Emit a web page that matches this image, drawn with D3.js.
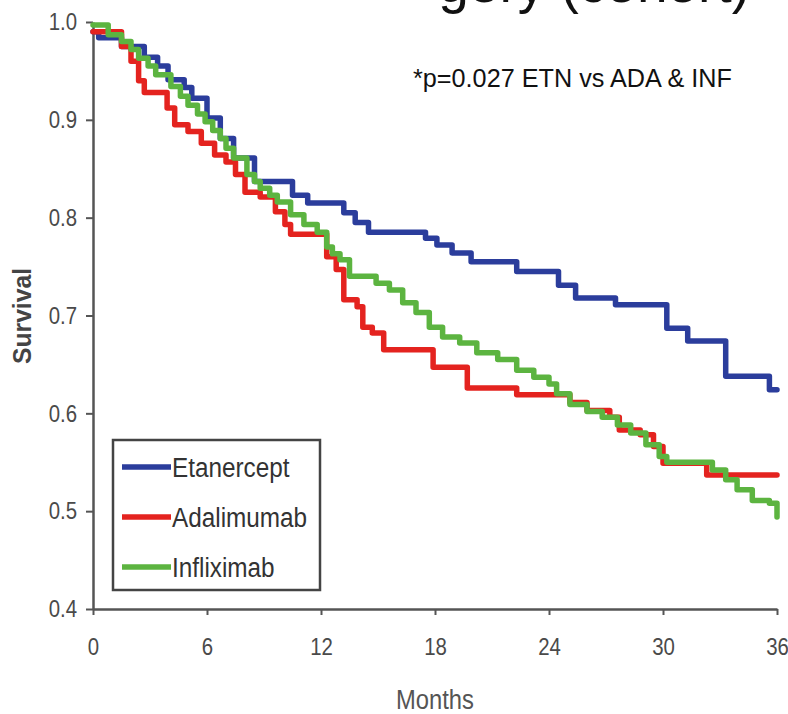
<!DOCTYPE html>
<html>
<head>
<meta charset="utf-8">
<script src="https://cdn.jsdelivr.net/npm/d3@7"></script>
<style>
  body { margin: 0; background: #fff; }
  svg { display: block; }
</style>
</head>
<body>
<script>
// Kaplan-Meier style survival, months -> survival (step after)
const months = [0, 6, 12, 18, 24, 30, 36];
const survTicks = [0.4, 0.5, 0.6, 0.7, 0.8, 0.9, 1.0];

const etanercept = [
  [0, 0.99], [0.3, 0.984], [1.5, 0.975], [2.7, 0.964], [3.4, 0.955], [3.95, 0.941],
  [4.8, 0.933], [5.2, 0.922], [6.0, 0.902], [6.7, 0.881], [7.4, 0.861], [8.5, 0.837],
  [10.5, 0.823], [11.3, 0.815], [13.2, 0.805], [13.8, 0.795], [14.5, 0.785],
  [17.5, 0.779], [18.1, 0.772], [18.9, 0.764], [19.9, 0.755], [22.3, 0.745],
  [24.5, 0.731], [25.4, 0.718], [27.5, 0.711], [30.2, 0.687], [31.3, 0.674],
  [33.3, 0.638], [35.6, 0.624], [36, 0.624]
];

const adalimumab = [
  [0, 0.99], [1.5, 0.975], [2.0, 0.96], [2.4, 0.94], [2.7, 0.928], [3.9, 0.912],
  [4.3, 0.895], [5.0, 0.888], [5.7, 0.876], [6.4, 0.864], [7.0, 0.857], [7.5, 0.844],
  [8.0, 0.826], [8.8, 0.821], [9.6, 0.806], [10.1, 0.793], [10.4, 0.783],
  [12.3, 0.760], [12.8, 0.747], [13.2, 0.716], [13.9, 0.709], [14.2, 0.688],
  [14.7, 0.682], [15.3, 0.665], [17.9, 0.647], [19.7, 0.626], [22.3, 0.619],
  [25.1, 0.611], [26.0, 0.603], [27.2, 0.596], [27.7, 0.583], [28.8, 0.578],
  [29.5, 0.566], [30.0, 0.549], [32.3, 0.537], [36, 0.537]
];

const infliximab = [
  [0, 0.997], [0.8, 0.987], [1.5, 0.98], [2.0, 0.972], [2.4, 0.963], [2.9, 0.955],
  [3.3, 0.946], [4.1, 0.934], [4.6, 0.924], [5.0, 0.915], [5.5, 0.906], [5.9, 0.898],
  [6.3, 0.889], [6.7, 0.881], [7.0, 0.871], [7.4, 0.861], [8.1, 0.844], [8.5, 0.837],
  [8.8, 0.830], [9.3, 0.823], [9.7, 0.816], [10.4, 0.803], [11.1, 0.793], [11.8, 0.785],
  [12.3, 0.770], [12.6, 0.763], [13.0, 0.757], [13.5, 0.740], [14.9, 0.733],
  [15.6, 0.726], [16.3, 0.713], [17.0, 0.703], [17.7, 0.688], [18.4, 0.678],
  [19.3, 0.672], [20.2, 0.662], [21.3, 0.655], [22.3, 0.644], [23.2, 0.637],
  [24.0, 0.630], [24.4, 0.620], [25.1, 0.609], [26.0, 0.602], [26.8, 0.596],
  [27.6, 0.588], [28.3, 0.580], [29.1, 0.568], [29.8, 0.556], [30.2, 0.550],
  [32.6, 0.542], [33.3, 0.532], [33.9, 0.522], [34.7, 0.511], [35.6, 0.508], [36, 0.494]
];

const seriesNames = ['Etanercept', 'Adalimumab', 'Infliximab'];
const seriesData = [etanercept, adalimumab, infliximab];
const colors = ['#2b3d9c', '#e4231f', '#5cb440'];

const width = 788;
const height = 714;
const sans = '"Liberation Sans", Arial, sans-serif';

const svg = d3.select('body')
  .append('svg')
  .attr('width', width)
  .attr('height', height);

const x = d3.scaleLinear().domain([0, 36]).range([93, 777]);
const y = d3.scaleLinear().domain([0.4, 1.0]).range([609, 22]);

// squeeze a text horizontally to mimic a narrow face
function narrow(sel, k) {
  sel.each(function () {
    const w = this.getComputedTextLength();
    d3.select(this).attr('textLength', w * k).attr('lengthAdjust', 'spacingAndGlyphs');
  });
}

// title of the slide, mostly cut off above the picture
svg.append('clipPath')
  .attr('id', 'title-clip')
  .append('rect')
  .attr('x', 440).attr('y', 0)
  .attr('width', 348).attr('height', 30);

svg.append('text')
  .attr('clip-path', 'url(#title-clip)')
  .attr('x', 750)
  .attr('y', 2)
  .attr('text-anchor', 'end')
  .attr('font-family', sans)
  .attr('font-size', 55)
  .attr('fill', '#111')
  .text('Time to Surgery (cohort)');

// axes
const xAxis = svg.append('g')
  .attr('transform', 'translate(0,609)')
  .call(d3.axisBottom(x).tickValues(months).tickSize(6).tickSizeOuter(0)
    .tickPadding(23).tickFormat(d3.format('d')));
const yAxis = svg.append('g')
  .attr('transform', 'translate(93,0)')
  .call(d3.axisLeft(y).tickValues(survTicks).tickSize(7).tickSizeOuter(0)
    .tickPadding(9).tickFormat(d3.format('.1f')));

[xAxis, yAxis].forEach(a => {
  a.select('.domain').attr('stroke', '#555').attr('stroke-width', 2.5);
  a.selectAll('.tick line').attr('stroke', '#555').attr('stroke-width', 2);
  a.selectAll('.tick text')
    .attr('font-family', sans)
    .attr('font-size', 24)
    .attr('fill', '#4a4a4a')
    .call(narrow, 0.85);
});

// curves
const line = d3.line()
  .x(d => x(d[0]))
  .y(d => y(d[1]))
  .curve(d3.curveStepAfter);

svg.append('g')
  .selectAll('path')
  .data(seriesData)
  .join('path')
  .attr('d', line)
  .attr('fill', 'none')
  .attr('stroke', (d, i) => colors[i])
  .attr('stroke-width', 5.5)
  .attr('stroke-linejoin', 'round')
  .attr('stroke-linecap', 'round');

// legend
const legend = svg.append('g');
legend.append('rect')
  .attr('x', 113).attr('y', 440)
  .attr('width', 207).attr('height', 150)
  .attr('fill', '#fff')
  .attr('stroke', '#444')
  .attr('stroke-width', 2.5);

const items = legend.selectAll('g.item')
  .data(seriesNames)
  .join('g')
  .attr('class', 'item')
  .attr('transform', (d, i) => `translate(0,${467 + i * 50})`);
items.append('line')
  .attr('x1', 122).attr('x2', 171)
  .attr('stroke', (d, i) => colors[i])
  .attr('stroke-width', 5.5);
items.append('text')
  .attr('x', 172)
  .attr('dy', '0.36em')
  .attr('font-family', sans)
  .attr('font-size', 27)
  .attr('fill', '#333')
  .text(d => d)
  .call(narrow, 0.9);

// p-value note
svg.append('text')
  .attr('x', 413)
  .attr('y', 87)
  .attr('font-family', sans)
  .attr('font-size', 26)
  .attr('fill', '#111')
  .text('*p=0.027 ETN vs ADA & INF')
  .call(narrow, 0.97);

// axis titles
svg.append('text')
  .attr('x', 435)
  .attr('y', 709)
  .attr('text-anchor', 'middle')
  .attr('font-family', sans)
  .attr('font-size', 27)
  .attr('fill', '#555')
  .text('Months')
  .call(narrow, 0.88);

svg.append('text')
  .attr('transform', 'translate(31,316) rotate(-90)')
  .attr('text-anchor', 'middle')
  .attr('font-family', sans)
  .attr('font-size', 26)
  .attr('font-weight', 'bold')
  .attr('fill', '#444')
  .text('Survival')
  .call(narrow, 0.95);
</script>
</body>
</html>
